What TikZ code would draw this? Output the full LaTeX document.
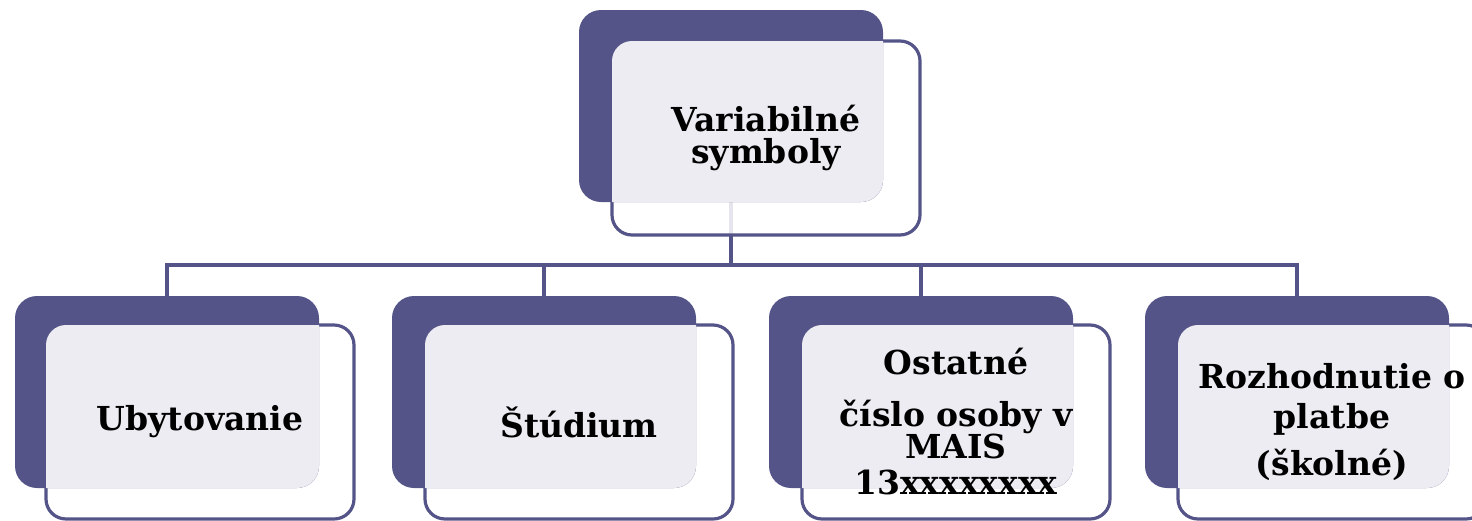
\documentclass[tikz,border=0pt]{standalone}
\usepackage{fontspec}
\setmainfont{DejaVu Serif}
\definecolor{vsdark}{RGB}{84,84,136}
\definecolor{vslight}{RGB}{237,236,243}
\pgfdeclarelayer{bg}
\pgfdeclarelayer{fg}
\pgfsetlayers{bg,main,fg}
\begin{document}
\begin{tikzpicture}[x=0.5pt,y=-0.5pt,
	backbox/.style={rectangle,rounded corners=11pt,fill=vsdark,minimum width=152pt,minimum height=96pt,inner sep=0pt,outer sep=0pt},
	frontbox/.style={rectangle,rounded corners=10pt,draw=vsdark,line width=1.6pt,fill=white,fill opacity=0.85,minimum width=154pt,minimum height=97pt,inner sep=0pt,outer sep=0pt},
	boxtext/.style={font=\bfseries\fontsize{16.5}{16}\selectfont,align=center,inner sep=0pt},
	link/.style={draw=vsdark,line width=2pt}]
		\useasboundingbox (0,0) rectangle (1472,520);
		%%%% vordere Rahmen
		\node[frontbox] (f0) at (766,138) {};
		\node[frontbox] (f1) at (200,422) {};
		\node[frontbox] (f2) at (579,422) {};
		\node[frontbox] (f3) at (956,422) {};
		\node[frontbox] (f4) at (1332,422) {};
		%%%% hintere Flaechen + Text
		\begin{pgfonlayer}{fg}
			\foreach \n/\x/\y in {0/731/106,1/167/392,2/544/392,3/921/392,4/1297/392} {
				\node[backbox] (b\n) at (\x,\y) {};
			}
			% Ueberlappung hell
			\foreach \n in {0,...,4} {
				\begin{scope}
					\clip[rounded corners=11pt] (b\n.south west) rectangle (b\n.north east);
					\fill[vslight,rounded corners=10pt] (f\n.south west) rectangle (f\n.north east);
				\end{scope}
			}
			% Texte
			\node[boxtext] (t0) at (f0.center) {Variabilné\\symboly};
			\node[boxtext] (t1) at (f1.center) {Ubytovanie};
			\node[boxtext] (t2) at (f2.center) {Štúdium};
			\node[boxtext] (t3) at (f3.center) {Ostatné\\[10pt]číslo osoby v\\MAIS\\[2pt]13xxxxxxxx};
			\node[boxtext] (t4) at (f4.center) {Rozhodnutie o\\[4pt]platbe\\[6pt](školné)};
		\end{pgfonlayer}
		%%%% Verbindungen
		\begin{pgfonlayer}{bg}
			\coordinate (hub) at (731,265);
			\draw[link] (b0.south) -- (hub);
			\foreach \n in {1,...,4} {
				\draw[link] (hub) -| (b\n.north);
			}
		\end{pgfonlayer}
\end{tikzpicture}
\end{document}
